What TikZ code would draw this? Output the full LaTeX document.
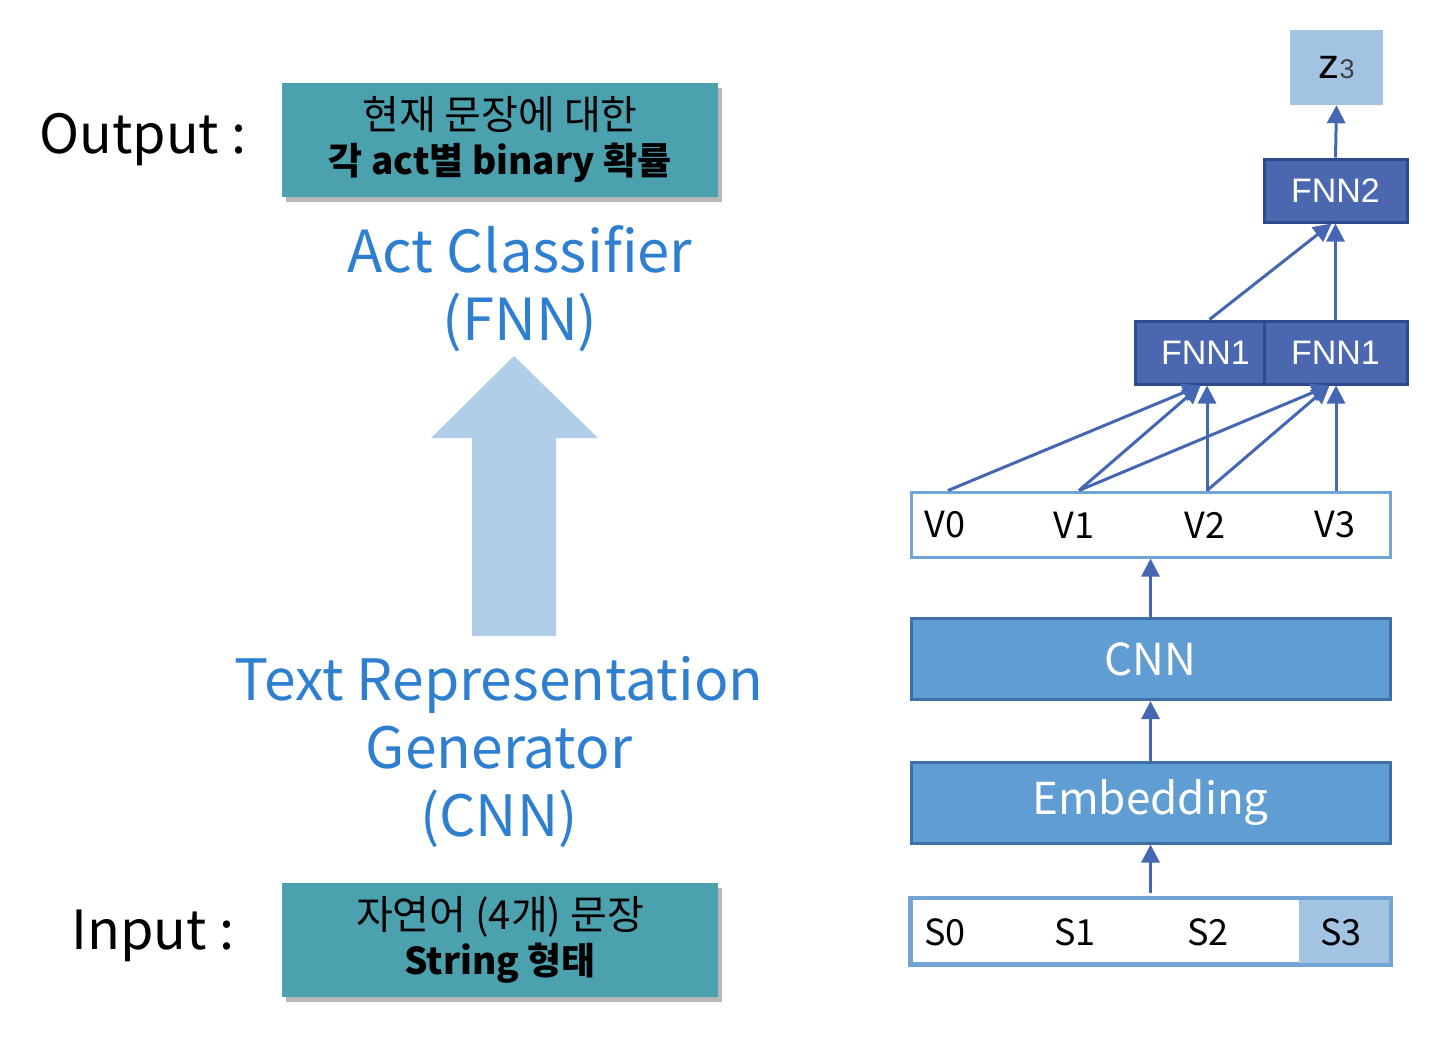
\documentclass[tikz,border=0pt]{standalone}
\usepackage{fontspec}
\setmainfont{Noto Sans CJK KR}
\newfontfamily\arialfont{Liberation Sans}
\usepackage{xcolor}
\usetikzlibrary{arrows.meta,positioning,shadows}
\definecolor{tealbox}{HTML}{4BA1AE}
\definecolor{titleblue}{HTML}{2F7FD0}
\definecolor{bigarrow}{HTML}{B1CEE8}
\definecolor{lineblue}{HTML}{4567B2}
\definecolor{fnnfill}{HTML}{4A67AF}
\definecolor{fnnedge}{HTML}{2F4A8A}
\definecolor{cnnfill}{HTML}{5F9DD2}
\definecolor{cnnedge}{HTML}{3F6FA5}
\definecolor{cellblue}{HTML}{A3C3E3}
\definecolor{rowedge}{HTML}{72A4D6}

\begin{document}
\begin{tikzpicture}[x=1pt,y=-1pt,
  sidelabel/.style={anchor=west,font=\fontsize{54}{54}\selectfont},
  tbox/.style={rectangle,fill=tealbox,minimum width=436pt,minimum height=114pt,align=center,
    drop shadow={shadow xshift=4pt,shadow yshift=-5pt,opacity=.4,fill=black!70},
    font=\fontsize{40}{45}\selectfont},
  boldline/.style={},
  bluetitle/.style={align=center,text=titleblue,font=\fontsize{58}{68}\selectfont},
  fnnbox/.style={rectangle,fill=fnnfill,draw=fnnedge,line width=3pt,minimum height=63pt,
    text=white,font=\arialfont\fontsize{34}{34}\selectfont},
  cnnbox/.style={rectangle,fill=cnnfill,draw=cnnedge,line width=3pt,minimum width=479pt,
    minimum height=81pt,text=white,font=\fontsize{44}{44}\selectfont},
  rowbox/.style={rectangle,fill=white,draw=rowedge,line width=3pt,minimum width=479pt,minimum height=65pt},
  cell/.style={font=\fontsize{36}{36}\selectfont},
  link/.style={draw=lineblue,line width=3pt,-{Triangle[width=18pt,length=18pt]}}]
  \useasboundingbox (0,0) rectangle (1451,1045);

  \node[sidelabel] (outlabel) at (36,140) {Output :};
  \node[sidelabel] (inlabel) at (68,936) {Input :};
  \node[tbox] (prob) at (500,140) {현재 문장에 대한\\\fontsize{37}{45}\selectfont\textbf{각 act별 binary 확률}};
  \node[tbox] (sent) at (500,940) {자연어 (4개) 문장\\\fontsize{37}{45}\selectfont\textbf{String 형태}};
  \node[bluetitle] (classifier) at (520,289) {Act Classifier\\(FNN)};
  \node[bluetitle,font=\fontsize{57}{68}\selectfont] (generator) at (499,752) {Text Representation\\Generator\\(CNN)};
  \fill[bigarrow] (472,636) -- (472,438) -- (431,438) -- (514,356) -- (598,438)
    -- (556,438) -- (556,636) -- cycle;

  \node[rectangle,fill=cellblue,minimum width=93pt,minimum height=75pt] (z) at (1336.5,67.5)
    {\raisebox{-6pt}{\arialfont\fontsize{42}{42}\selectfont z\fontsize{27}{27}\selectfont\textcolor{black!75}{3}}};
  \node[fnnbox,minimum width=143pt] (fnn2) at (1335.5,190.5) {FNN2};
  \node[fnnbox,minimum width=129pt] (fnn1a) at (1199.5,352.5) {\hspace*{12pt}FNN1};
  \node[fnnbox,minimum width=143pt] (fnn1b) at (1335.5,352.5) {FNN1};

  \node[rowbox] (vrow) at (1150.5,524.5) {};
  \node[cell] (v0) at (945,525) {V0};
  \node[cell] (v1) at (1074,525) {V1};
  \node[cell] (v2) at (1205,525) {V2};
  \node[cell] (v3) at (1335,525) {V3};
  \coordinate (v0top) at ([xshift=3pt]v0 |- vrow.north);
  \coordinate (v1top) at ([xshift=5pt]v1 |- vrow.north);
  \coordinate (v2top) at ([xshift=2pt]v2 |- vrow.north);
  \coordinate (v3top) at ([xshift=1pt]v3 |- vrow.north);

  \node[cnnbox] (cnn) at (1150.5,659) {CNN};
  \node[cnnbox] (emb) at (1150.5,802.5) {Embedding};

  \node[rowbox] (srow) at (1150.5,931) {};
  \node[rectangle,fill=cellblue,inner sep=0pt,minimum width=89.5pt,minimum height=63pt] (s3cell) at (1343.75,931) {};
  \draw[rowedge,line width=3pt] (srow.north west) rectangle (srow.south east);
  \node[cell] (s0) at (945,932) {S0};
  \node[cell] (s1) at (1075,932) {S1};
  \node[cell] (s2) at (1208,932) {S2};
  \node[cell] (s3) at (1341,932) {S3};

  \draw[link] ([yshift=4pt]srow.north) -- (emb.south);
  \draw[link] (emb.north) -- (cnn.south);
  \draw[link] (cnn.north) -- (vrow.south);
  \draw[link] (v0top) -- ([xshift=1pt]fnn1a.south);
  \draw[link] (v1top) -- ([xshift=1pt]fnn1a.south);
  \draw[link] (v2top) -- (v2top |- fnn1a.south);
  \draw[link] (v1top) -- ([xshift=-6pt]fnn1b.south);
  \draw[link] (v2top) -- ([xshift=-6pt]fnn1b.south);
  \draw[link] (v3top) -- (v3top |- fnn1b.south);
  \draw[link] ([xshift=10pt]fnn1a.north) -- ([xshift=-4pt]fnn2.south);
  \draw[link] (fnn1b.north) -- (fnn2.south);
  \draw[link] (fnn2.north) -- (z.south);
\end{tikzpicture}
\end{document}
